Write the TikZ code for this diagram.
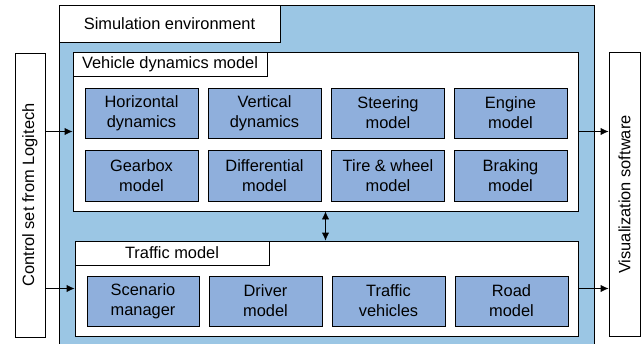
\documentclass[tikz,border=0pt]{standalone}
\usepackage{fontspec}
\setmainfont{Liberation Sans}
\usepackage{tikz}
\usetikzlibrary{arrows.meta,calc,positioning}

\definecolor{envblue}{RGB}{155,198,228}
\definecolor{boxblue}{RGB}{143,175,220}

\begin{document}
\begin{tikzpicture}[x=0.75pt, y=-0.75pt, line width=0.6pt, >={Latex[length=6pt,width=5.5pt]}]
	\tikzstyle{every node} = [draw = black, inner sep = 0pt, align = center, font = \fontsize{12.3}{15}\selectfont]
	\tikzstyle{pxsize} = [minimum width = #1*0.75pt]
	\tikzstyle{pxheight} = [minimum height = #1*0.75pt]
	\tikzstyle{frame} = [fill = white]
	\tikzstyle{title} = [fill = white, pxheight = 24]
	\tikzstyle{module} = [fill = boxblue, pxsize = 113, pxheight = 50]
	\tikzstyle{side} = [fill = white, pxsize = 30, pxheight = 284]
\useasboundingbox (0,0) rectangle (641,343);
\clip (0,0) rectangle (641,343);

% simulation environment
\node[fill = envblue, pxsize = 535, pxheight = 350] (env) at (326.5, 180) {};
\node[title, pxsize = 221, pxheight = 37] (envtitle) at (169.5, 23.5) {Simulation environment};

% vehicle dynamics model
\node[frame, pxsize = 505, pxheight = 159] (vdm) at (325.5, 131.5) {};
\node[title, pxsize = 194] (vdmtitle) at (170, 64) {Vehicle dynamics model};
\node[module] (1) at (141.5, 113) {Horizontal\\dynamics};
\node[module] (2) at (264.5, 113) {Vertical\\dynamics};
\node[module] (3) at (388, 113) {Steering\\model};
\node[module] (4) at (510.5, 113) {Engine\\model};
\node[module, pxheight = 51] (5) at (141.5, 175.5) {Gearbox\\model};
\node[module, pxheight = 51] (6) at (264.5, 175.5) {Differential\\model};
\node[module, pxheight = 51] (7) at (388, 175.5) {Tire \& wheel\\model};
\node[module, pxheight = 51] (8) at (510.5, 175.5) {Braking\\model};

% traffic model
\node[frame, pxsize = 503, pxheight = 95] (traffic) at (326.5, 288.5) {};
\node[title, pxsize = 194] (traffictitle) at (172, 253) {Traffic model};
\node[module, pxsize = 112] (9) at (143, 301) {Scenario\\manager};
\node[module] (10) at (265.5, 301) {Driver\\model};
\node[module] (11) at (388.5, 301) {Traffic\\vehicles};
\node[module] (12) at (511.5, 301) {Road\\model};

% input and output
\node[side] (ctrl) at (30, 195) {\rotatebox{90}{Control set from Logitech}};
\node[side, pxsize = 31] (vis) at (624.5, 194.5) {\rotatebox{90}{Visualization software}};

	\path[draw, ->] (ctrl.east |- vdm.west) -- (vdm.west);
	\path[draw, ->] (ctrl.east |- traffic.west) -- (traffic.west);
	\path[draw, ->] (vdm.east) -- (vis.west |- vdm.east);
	\path[draw, ->] (traffic.east) -- (vis.west |- traffic.east);
	\path[draw, <->] (vdm.south) -- (vdm.south |- traffic.north);
	\end{tikzpicture}
\end{document}
